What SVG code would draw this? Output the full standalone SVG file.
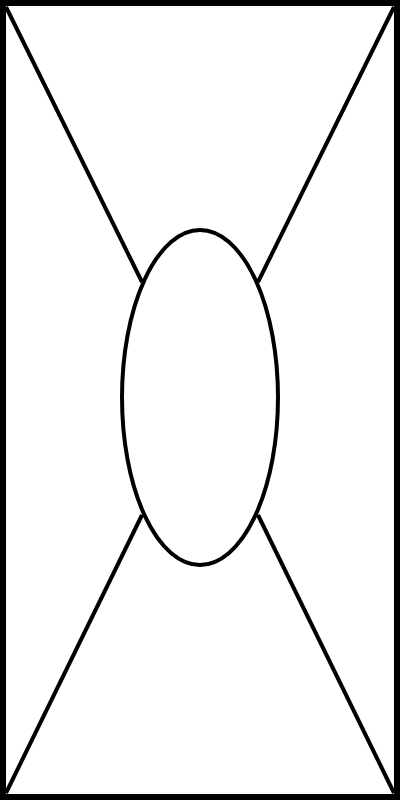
<svg xmlns="http://www.w3.org/2000/svg" width="400" height="800" viewBox="0 0 400 800">
<style>
.s{fill:none;stroke:#000;stroke-width:4}
</style>
<rect x="0" y="0" width="400" height="800" fill="#fff"/>
<g id="connectors">
<line class="s" x1="6" y1="7" x2="142" y2="282"/>
<line class="s" x1="394" y1="7" x2="258" y2="282"/>
<line class="s" x1="6" y1="793" x2="142" y2="515"/>
<line class="s" x1="394" y1="793" x2="258" y2="515"/>
</g>
<g id="frame">
<rect x="3" y="3" width="394" height="794" fill="none" stroke="#000" stroke-width="6"/>
</g>
<g id="ellipse">
<ellipse class="s" cx="200" cy="397.5" rx="78" ry="167.5" fill="#fff"/>
</g>
</svg>
